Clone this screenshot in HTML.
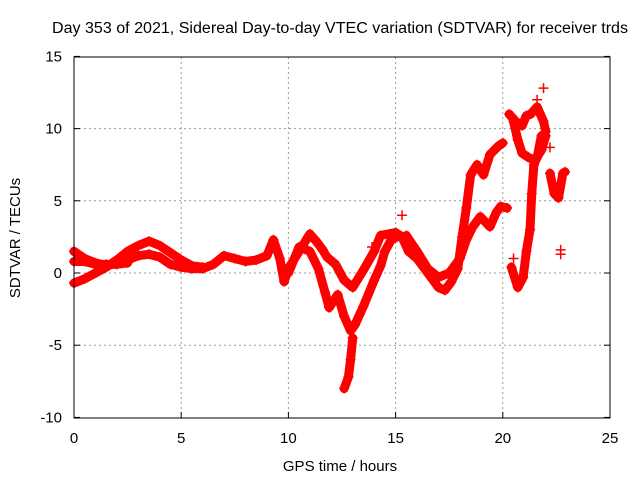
<!DOCTYPE html>
<html><head><meta charset="utf-8"><style>
body{margin:0;background:#fff}
text{font-family:"Liberation Sans",sans-serif;font-size:15px;fill:#000}
#chart .title{font-size:15.5px}
</style></head><body>
<svg id="chart" width="640" height="480" xmlns="http://www.w3.org/2000/svg">
<rect width="640" height="480" fill="#fff"/>
<text class="title" x="340" y="33" text-anchor="middle" textLength="576" lengthAdjust="spacingAndGlyphs">Day 353 of 2021, Sidereal Day-to-day VTEC variation (SDTVAR) for receiver trds</text>
<g id="grid"></g>
<g id="ticks"></g>
<g id="series"></g>
<rect x="74" y="57" width="536" height="361" fill="none" stroke="#000" stroke-width="1"/>
<text x="340" y="471" text-anchor="middle">GPS time / hours</text>
<text transform="translate(20,238) rotate(-90)" text-anchor="middle">SDTVAR / TECUs</text>
</svg>
<script>
const xTicks=[0,5,10,15,20,25];
const yTicks=[-10,-5,0,5,10,15];
const track1=[[0,-0.7],[0.5,-0.4],[1,0],[1.5,0.4],[2,0.9],[2.5,1.5],[3,1.9],[3.5,2.2],[4,1.9],[4.5,1.4],[5,0.9],[5.5,0.5],[6,0.4]];
const track2=[[0,1.5],[0.5,1.0],[1,0.7],[1.5,0.5],[2,0.7],[2.5,0.9],[3,1.2],[3.5,1.3],[4,1.1],[4.5,0.6],[5,0.4],[5.5,0.3],[6,0.3],[6.5,0.6],[7,1.2],[7.5,1.0],[8,0.8],[8.5,0.9],[9,1.2],[9.3,2.3],[9.6,1.0],[9.8,-0.6],[10,0.3],[10.5,1.5],[11,2.7],[11.3,2.2],[11.6,1.6],[11.8,1.1],[12.2,0.6],[12.6,-0.5],[13,-1],[13.5,0.2],[14,1.5],[14.3,2.6],[15,2.8],[15.3,2.5],[15.6,1.5],[16,1],[16.5,0],[17,-1],[17.3,-1.2],[17.6,-0.6],[17.9,0.3],[18.1,2.5],[18.3,4.5],[18.5,6.8],[18.8,7.5],[19.1,6.8],[19.4,8.2],[19.8,8.8],[20,9]];
const track3=[[0,0.8],[0.5,0.8],[1,0.6],[1.5,0.6],[2,0.6],[2.5,0.7]];
const track4=[[10,0],[10.5,1.8],[11,1.5],[11.4,0.3],[11.7,-1.3],[11.9,-2.4],[12.3,-1.5],[12.6,-3],[12.9,-4.0],[13.1,-3.6],[13.5,-2.3],[14,-0.5],[14.3,0.5],[14.5,1.5],[14.8,2.3],[15.2,2.6]];
const track5=[[12.6,-8],[12.8,-7.2],[12.9,-6],[13,-4.5]];
const track6=[[15.5,2.6],[16,1.5],[16.5,0.3],[17,-0.3],[17.5,0],[18,1],[18.3,2.3],[18.6,3.2],[18.95,3.9],[19.4,3.2],[19.7,4.2],[19.9,4.6],[20.2,4.5]];
const track7=[[20.4,0.4],[20.7,-1.0],[20.95,-0.3],[21.1,1.5],[21.27,3.0],[21.35,5.5],[21.45,7.5],[21.6,8.0],[21.8,9.5]];
const track8=[[20.3,11.0],[20.6,10.5],[20.9,10.2],[21.1,10.9],[21.3,11.0],[21.6,11.5],[21.9,10.5],[22.0,9.8]];
const track9=[[20.5,10.5],[20.7,9.2],[20.9,8.3],[21.2,8.0],[21.5,7.8],[21.8,8.5],[22.0,9.5]];
const track10=[[22.2,6.9],[22.4,5.5],[22.6,5.2],[22.8,6.9],[22.9,7.0]];
const strays=[[22.7,1.6],[22.7,1.3],[20.5,1.0],[21.9,12.8],[22.2,8.7],[15.3,4.0],[13.9,1.8],[21.6,12.0]];
const tracks=[track1,track2,track3,track4,track5,track6,track7,track8,track9,track10];

const X=h=>74+h*(536/25);
const Y=v=>273-v*(361/25);
const NS="http://www.w3.org/2000/svg";
const grid=document.getElementById('grid'),ticks=document.getElementById('ticks'),ser=document.getElementById('series');
function mk(tag,attrs,parent){const e=document.createElementNS(NS,tag);for(const k in attrs)e.setAttribute(k,attrs[k]);parent.appendChild(e);return e;}
xTicks.forEach(t=>{
  const x=X(t);
  if(t>0&&t<25){const l=mk('line',{x1:x,y1:57,x2:x,y2:418,stroke:'#999','stroke-dasharray':'2,3'},grid);
  
  }
  mk('line',{x1:x,y1:418,x2:x,y2:412,stroke:'#000'},ticks);
  const tx=mk('text',{x:x,y:443,'text-anchor':'middle'},ticks);tx.textContent=t;
  
  
});
yTicks.forEach(t=>{
  const y=Y(t);
  if(t>-10&&t<15){const l=mk('line',{x1:74,y1:y,x2:610,y2:y,stroke:'#999','stroke-dasharray':'2,3'},grid);
  
  }
  mk('line',{x1:74,y1:y,x2:80,y2:y,stroke:'#000'},ticks);
  mk('line',{x1:610,y1:y,x2:604,y2:y,stroke:'#000'},ticks);
  const tx=mk('text',{x:62,y:y+5,'text-anchor':'end'},ticks);tx.textContent=t;
  
  
});
tracks.forEach(tr=>{
  const p=mk('polyline',{points:tr.map(d=>X(d[0])+','+Y(d[1])).join(' '),fill:'none',stroke:'#f00','stroke-width':9,'stroke-linejoin':'round','stroke-linecap':'round'},ser);
  
  
});
tracks.concat([strays]).forEach(tr=>tr.forEach(d=>{
  const x=X(d[0]),y=Y(d[1]);
  const m=mk('path',{d:`M${x-5},${y}H${x+5}M${x},${y-5}V${y+5}`,stroke:'#f00','stroke-width':1.5},ser);
  
  
}));
</script>
</body></html>
